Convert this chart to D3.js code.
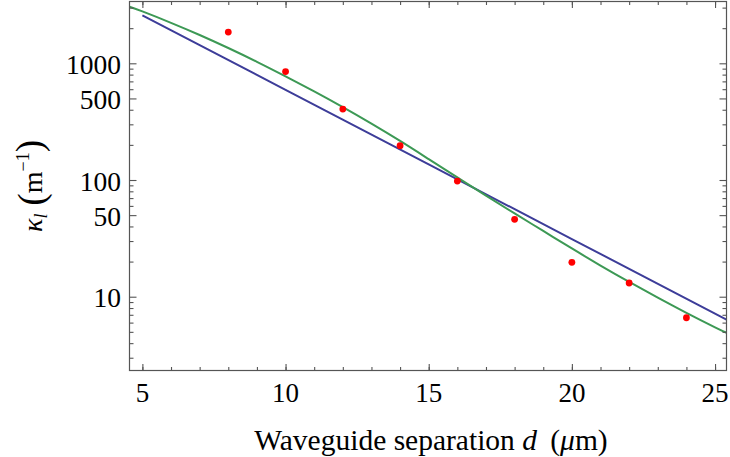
<!DOCTYPE html>
<html>
<head>
<meta charset="utf-8">
<script src="https://cdn.jsdelivr.net/npm/d3@7"></script>
<style>
  html, body { margin: 0; padding: 0; background: #fff; }
  svg { display: block; }
  text { font-family: "Liberation Serif", "DejaVu Serif", serif; fill: #000; }
</style>
</head>
<body>
<svg id="chart" width="730" height="457"></svg>
<script>
// Measured coupling constant vs. waveguide separation
const separation = [8, 10, 12, 14, 16, 18, 20, 22, 24];
const coupling = [1850, 850, 405, 197, 98, 46, 19.7, 13.1, 6.6];

// Exponential fit (straight on the log axis)
const expFitD = [5, 10, 15, 20, 25.4];
const expFitK = [2578, 592, 136, 31.2, 6.37];

// Mode-overlap model curve
const modelD = [4.55, 5, 6, 7, 8, 9, 10, 11, 12, 13, 14, 15, 16, 17,
                18, 19, 20, 21, 22, 23, 24, 25, 25.4];
const modelK = [3055, 2784, 2223, 1748, 1352, 1030, 773, 574, 421, 304, 216, 151, 105.3, 73.5,
                51.7, 36.6, 25.9, 18.5, 13.4, 9.82, 7.28, 5.47, 4.91];

// Axis ticks
const xMajorTicks = [5, 10, 15, 20, 25];
const xMinorTicks = d3.range(5, 26);
const yMajorTicks = [10, 50, 100, 500, 1000];
const yTickLabels = ["10", "50", "100", "500", "1000"];
const yMinorTicks = [3, 4, 5, 6, 7, 8, 9, 20, 30, 40, 60, 70, 80, 90,
                     200, 300, 400, 600, 700, 800, 900, 2000, 3000];

const svg = d3.select("#chart");
const L = 129.5, R = 726.5, T = 1.5, B = 370.5;

const x = d3.scaleLinear().domain([4.55, 25.4]).range([L, R]);
const y = d3.scaleLog().domain([2.332, 3385]).range([B, T]);

const frameColor = "#555";

// clip region for the curves
svg.append("defs").append("clipPath").attr("id", "plotClip")
  .append("rect").attr("x", L).attr("y", T).attr("width", R - L).attr("height", B - T);

const plot = svg.append("g").attr("clip-path", "url(#plotClip)");

const toPts = (ds, ks) => ds.map((d, i) => [d, ks[i]]);

plot.append("path")
  .datum(toPts(expFitD, expFitK))
  .attr("fill", "none")
  .attr("stroke", "#3d3d99")
  .attr("stroke-width", 2)
  .attr("d", d3.line().x(p => x(p[0])).y(p => y(p[1])));

plot.append("path")
  .datum(toPts(modelD, modelK))
  .attr("fill", "none")
  .attr("stroke", "#3d9955")
  .attr("stroke-width", 2)
  .attr("d", d3.line().curve(d3.curveNatural).x(p => x(p[0])).y(p => y(p[1])));

plot.selectAll("circle.pt")
  .data(toPts(separation, coupling))
  .join("circle")
  .attr("class", "pt")
  .attr("cx", p => x(p[0]))
  .attr("cy", p => y(p[1]))
  .attr("r", 3.4)
  .attr("fill", "#ff0000");

// Frame
svg.append("rect")
  .attr("x", L).attr("y", T).attr("width", R - L).attr("height", B - T)
  .attr("fill", "none").attr("stroke", frameColor).attr("stroke-width", 1.2);

// Inward ticks via d3 axes (negative tick size points into the frame)
const xBottomMajor = d3.axisBottom(x).tickValues(xMajorTicks).tickSize(-6.5).tickFormat("");
const xBottomMinor = d3.axisBottom(x).tickValues(xMinorTicks).tickSize(-3.5).tickFormat("");
const xTopMajor = d3.axisTop(x).tickValues(xMajorTicks).tickSize(-6.5).tickFormat("");
const xTopMinor = d3.axisTop(x).tickValues(xMinorTicks).tickSize(-3.5).tickFormat("");
const yLeftMajor = d3.axisLeft(y).tickValues(yMajorTicks).tickSize(-7).tickFormat("");
const yLeftMinor = d3.axisLeft(y).tickValues(yMinorTicks).tickSize(-4).tickFormat("");
const yRightMajor = d3.axisRight(y).tickValues(yMajorTicks).tickSize(-7).tickFormat("");
const yRightMinor = d3.axisRight(y).tickValues(yMinorTicks).tickSize(-4).tickFormat("");

function addAxis(axis, tx, ty) {
  const g = svg.append("g").attr("transform", `translate(${tx},${ty})`).call(axis);
  g.select(".domain").remove();
  g.selectAll(".tick line").attr("stroke", frameColor).attr("stroke-width", 1.1);
  return g;
}
addAxis(xBottomMajor, 0, B);
addAxis(xBottomMinor, 0, B);
addAxis(xTopMajor, 0, T);
addAxis(xTopMinor, 0, T);
addAxis(yLeftMajor, L, 0);
addAxis(yLeftMinor, L, 0);
addAxis(yRightMajor, R, 0);
addAxis(yRightMinor, R, 0);

// Tick labels
svg.append("g").selectAll("text")
  .data(xMajorTicks)
  .join("text")
  .attr("x", d => x(d))
  .attr("y", 402)
  .attr("text-anchor", "middle")
  .attr("font-size", 27)
  .text(d => d);

svg.append("g").selectAll("text")
  .data(yMajorTicks)
  .join("text")
  .attr("x", 121)
  .attr("y", d => y(d) + 10.5)
  .attr("text-anchor", "end")
  .attr("font-size", 27.5)
  .text((d, i) => yTickLabels[i]);

// x-axis title
const xt = svg.append("text")
  .attr("x", 431).attr("y", 450)
  .attr("text-anchor", "middle")
  .attr("font-size", 29.5);
xt.append("tspan").text("Waveguide separation ");
xt.append("tspan").attr("font-style", "italic").text("d");
xt.append("tspan").text("\u2009 (");
xt.append("tspan").attr("font-style", "italic").text("\u03bc");
xt.append("tspan").text("m)");

// y-axis title
const yt = svg.append("text")
  .attr("transform", "translate(42,186) rotate(-90)")
  .attr("text-anchor", "middle")
  .attr("font-size", 28);
yt.append("tspan").attr("font-style", "italic").text("\u03ba");
yt.append("tspan").attr("font-style", "italic").attr("font-size", 18).attr("dy", 5).text("l");
yt.append("tspan").attr("font-size", 37).attr("dy", -3).attr("dx", 8).text("(");
yt.append("tspan").attr("dy", -2).text("m");
yt.append("tspan").attr("font-size", 18).attr("dy", -13).text("\u22121");
yt.append("tspan").attr("font-size", 37).attr("dy", 13).text(")");
</script>
</body>
</html>
